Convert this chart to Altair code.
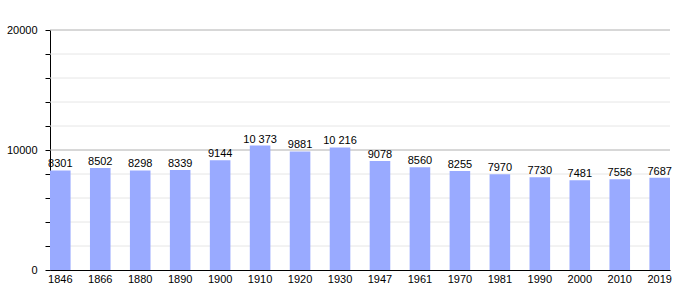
import altair as alt
import pandas as pd

years = ["1846", "1866", "1880", "1890", "1900", "1910", "1920", "1930",
         "1947", "1961", "1970", "1981", "1990", "2000", "2010", "2019"]
population = [8301, 8502, 8298, 8339, 9144, 10373, 9881, 10216,
              9078, 8560, 8255, 7970, 7730, 7481, 7556, 7687]
minor_grid = [2000, 4000, 6000, 8000, 12000, 14000, 16000, 18000]
major_grid = [10000, 20000]
y_ticks = [0, 2000, 4000, 6000, 8000, 10000, 12000, 14000, 16000, 18000, 20000]


def fmt(v):
    return f"{v:,}".replace(",", " ") if v >= 10000 else str(v)


df = pd.DataFrame({"year": years, "pop": population,
                   "label": [fmt(v) for v in population]})
minor_df = pd.DataFrame({"v": minor_grid})
major_df = pd.DataFrame({"v": major_grid})

FONT = "Liberation Sans"

y_scale = alt.Scale(domain=[0, 20000], nice=False, zero=True)
y_axis = alt.Axis(
    title=None, values=y_ticks, grid=False,
    labelExpr="datum.value % 10000 === 0 ? '' + datum.value : ''",
    domainColor="black", tickColor="black", tickSize=5, labelPadding=8,
    labelFont=FONT, labelFontSize=11, labelColor="black",
)
x_enc = alt.X(
    "year:N", sort=None,
    scale=alt.Scale(paddingInner=0.485, paddingOuter=0),
    axis=alt.Axis(title=None, labelAngle=0, ticks=False, domainColor="black",
                  labelPadding=3, labelFont=FONT, labelFontSize=11,
                  labelColor="black"),
)

minor = alt.Chart(minor_df).mark_rule(color="#e6e6e6", strokeWidth=1).encode(
    y=alt.Y("v:Q", scale=y_scale, axis=y_axis)
)
major = alt.Chart(major_df).mark_rule(color="#b0b0b0", strokeWidth=1).encode(
    y=alt.Y("v:Q", scale=y_scale, axis=y_axis)
)
bars = alt.Chart(df).mark_bar(color="#99aaff").encode(
    x=x_enc,
    y=alt.Y("pop:Q", scale=y_scale, axis=y_axis),
)
labels = alt.Chart(df).mark_text(
    baseline="alphabetic", dy=-3, font=FONT, fontSize=11, color="black"
).encode(
    x=x_enc,
    y=alt.Y("pop:Q", scale=y_scale, axis=y_axis),
    text="label:N",
)

chart = alt.layer(minor, major, bars, labels).properties(
    width=620, height=240,
    autosize=alt.AutoSizeParams(type="none"),
    padding={"left": 50, "top": 30, "right": 30, "bottom": 30},
    background="white",
).configure_view(strokeWidth=0)

chart.save("out.html", embed_options={"renderer": "svg", "actions": False})
